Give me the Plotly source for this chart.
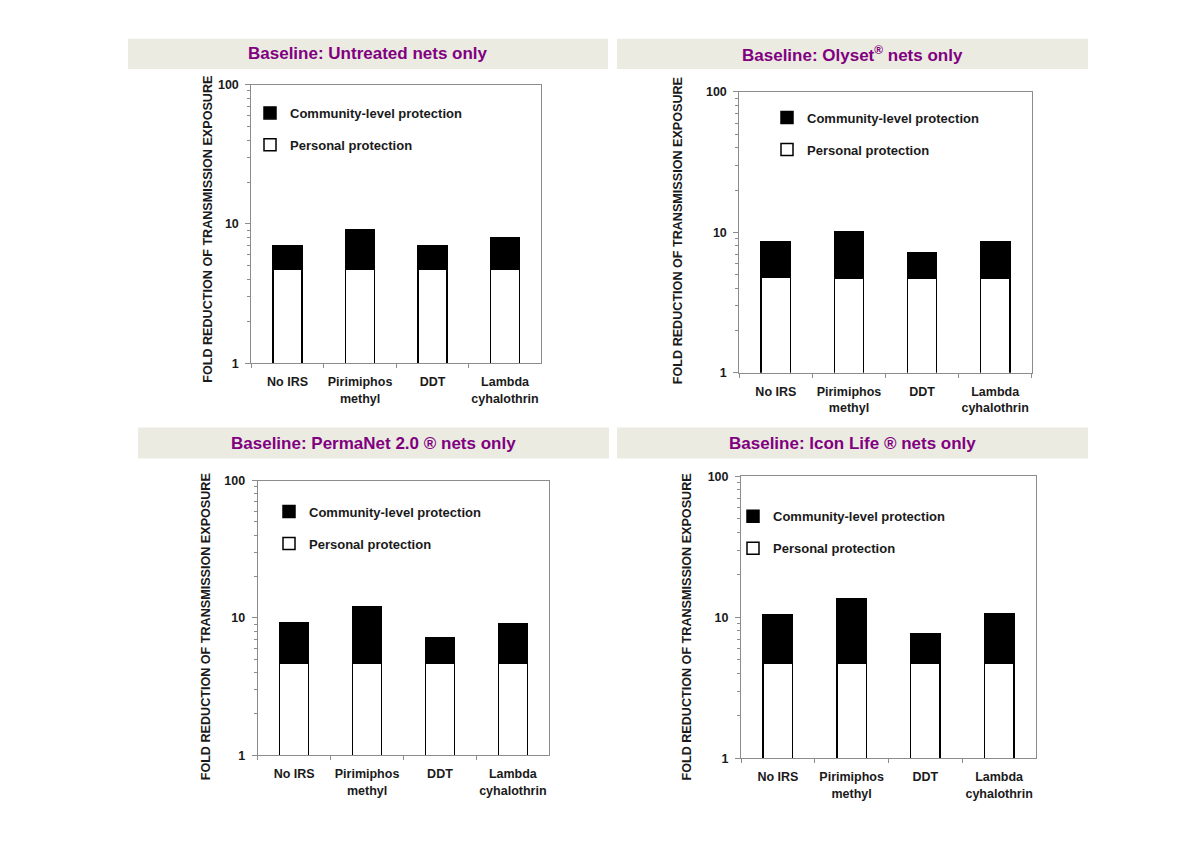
import plotly.graph_objects as go
from plotly.subplots import make_subplots

# 数据
categories = ["No IRS", "Pirimiphos<br>methyl", "DDT", "Lambda<br>cyhalothrin"]

panel_titles = [
    "Baseline: Untreated nets only",
    "Baseline: Olyset<sup>®</sup> nets only",
    "Baseline: PermaNet 2.0 ® nets only",
    "Baseline: Icon Life ® nets only",
]

personal_untreated = [4.7, 4.7, 4.7, 4.7]
total_untreated = [7.0, 9.1, 7.0, 8.0]

personal_olyset = [4.75, 4.7, 4.7, 4.7]
total_olyset = [8.5, 10.1, 7.1, 8.6]

personal_permanet = [4.7, 4.7, 4.7, 4.7]
total_permanet = [9.3, 12.0, 7.2, 9.0]

personal_iconlife = [4.7, 4.7, 4.7, 4.7]
total_iconlife = [10.5, 13.5, 7.7, 10.6]

y_tick_vals = [1, 10, 100]
y_tick_text = ["1", "10", "100"]
y_minor_vals = [2, 3, 4, 5, 6, 7, 8, 9, 20, 30, 40, 50, 60, 70, 80, 90]

personal_all = [personal_untreated, personal_olyset, personal_permanet, personal_iconlife]
total_all = [total_untreated, total_olyset, total_permanet, total_iconlife]

# 版面：页面自带边距（页面高约 864，截图时纵向压缩到 848）
OX, OY = 8, 15.5
SY = 848 / 864
W, H = 1184, 830


def px_x(x):
    return (x - OX) / W


def px_y(y):
    return 1 - (y / SY - OY) / H


plot_boxes = [  # left, right, top, bottom in px (reference image)
    (251.3, 541.3, 84.7, 363.0),
    (739.3, 1031.7, 92.0, 372.3),
    (257.7, 549.3, 480.0, 754.3),
    (741.0, 1036.0, 475.7, 757.3),
]
header_boxes = [  # left, right, top, bottom in px
    (128, 608, 39, 69),
    (617, 1088, 39, 69),
    (138, 609, 427, 458),
    (617, 1088, 427, 458),
]
ytitle_pos = [(208, 229.6), (678, 231), (206, 626.5), (686.7, 626)]
legend_pos = [(250, 98), (767, 102.7), (269, 496), (733, 500.7)]

FONT = "Liberation Sans, Arial, sans-serif"
AXIS_GRAY = "#8c8c8c"
TEXT = "#1a1a1a"

fig = make_subplots(rows=2, cols=2)

for i in range(4):
    row, col = i // 2 + 1, i % 2 + 1
    lg = "legend" if i == 0 else f"legend{i + 1}"
    community = [round(t - p, 3) for t, p in zip(total_all[i], personal_all[i])]

    # 个人保护（白色，底部）
    fig.add_trace(
        go.Bar(
            x=categories,
            y=personal_all[i],
            name="Personal protection",
            marker=dict(color="white", line=dict(color="black", width=1.5)),
            width=0.4,
            legend=lg,
            legendgroup=f"p{i}",
            legendrank=2,
        ),
        row=row, col=col
    )
    # 社区层面保护（黑色，堆叠在上面）
    fig.add_trace(
        go.Bar(
            x=categories,
            y=community,
            name="Community-level protection",
            marker=dict(color="black", line=dict(color="black", width=1.5)),
            width=0.4,
            legend=lg,
            legendgroup=f"c{i}",
            legendrank=1,
        ),
        row=row, col=col
    )

fig.update_layout(
    width=W, height=H,
    margin=dict(l=0, r=0, t=0, b=0),
    paper_bgcolor="white",
    plot_bgcolor="white",
    barmode="stack",
    font=dict(family=FONT, size=12, color=TEXT),
)

axis_names = [("xaxis", "yaxis"), ("xaxis2", "yaxis2"), ("xaxis3", "yaxis3"), ("xaxis4", "yaxis4")]
for i, (xa, ya) in enumerate(axis_names):
    l, r, t, b = plot_boxes[i]
    fig.layout[xa].update(
        domain=[px_x(l), px_x(r)],
        type="category",
        tickson="boundaries",
        ticks="outside",
        ticklen=4,
        tickcolor=AXIS_GRAY,
        tickangle=0,
        showline=True,
        linecolor=AXIS_GRAY,
        linewidth=1,
        mirror=True,
        showgrid=False,
        range=[-0.5, 3.5],
        tickfont=dict(family=FONT, size=12.5, weight="bold", color=TEXT),
        ticklabelstandoff=7,
    )
    fig.layout[ya].update(
        domain=[px_y(b), px_y(t)],
        type="log",
        range=[0, 2],
        tickmode="array",
        tickvals=y_tick_vals,
        ticktext=y_tick_text,
        ticks="outside",
        ticklen=5,
        tickcolor=AXIS_GRAY,
        minor=dict(tickmode="array", tickvals=y_minor_vals, ticks="outside",
                   ticklen=3, tickcolor=AXIS_GRAY, showgrid=False),
        showline=True,
        linecolor=AXIS_GRAY,
        linewidth=1,
        mirror=True,
        showgrid=False,
        zeroline=False,
        tickfont=dict(family=FONT, size=12.5, weight="bold", color=TEXT),
        ticklabelstandoff=4,
    )

# 图例（每个子图一个）
for i, (lx, ly) in enumerate(legend_pos):
    key = "legend" if i == 0 else f"legend{i + 1}"
    fig.layout[key] = dict(
        x=px_x(lx), y=px_y(ly),
        xanchor="left", yanchor="top",
        bgcolor="rgba(0,0,0,0)",
        borderwidth=0,
        traceorder="grouped",
        tracegroupgap=12,
        font=dict(family=FONT, size=13, weight="bold", color=TEXT),
    )

# 标题栏
for i, (l, r, t, b) in enumerate(header_boxes):
    fig.add_shape(
        type="rect", xref="paper", yref="paper",
        x0=px_x(l), x1=px_x(r), y0=px_y(b), y1=px_y(t),
        fillcolor="#ecebe2", line=dict(width=0), layer="below",
    )
    fig.add_annotation(
        x=px_x((l + r) / 2), y=px_y((t + b) / 2),
        xref="paper", yref="paper",
        text=panel_titles[i], showarrow=False,
        xanchor="center", yanchor="middle",
        font=dict(family=FONT, size=17, weight="bold", color="#800080"),
    )

# Y 轴标题
for i, (tx, ty) in enumerate(ytitle_pos):
    fig.add_annotation(
        x=px_x(tx), y=px_y(ty),
        xref="paper", yref="paper",
        text="FOLD REDUCTION OF TRANSMISSION EXPOSURE",
        textangle=-90, showarrow=False,
        xanchor="center", yanchor="middle",
        font=dict(family=FONT, size=12.6, weight="bold", color=TEXT),
    )

fig.write_html("out.html")
